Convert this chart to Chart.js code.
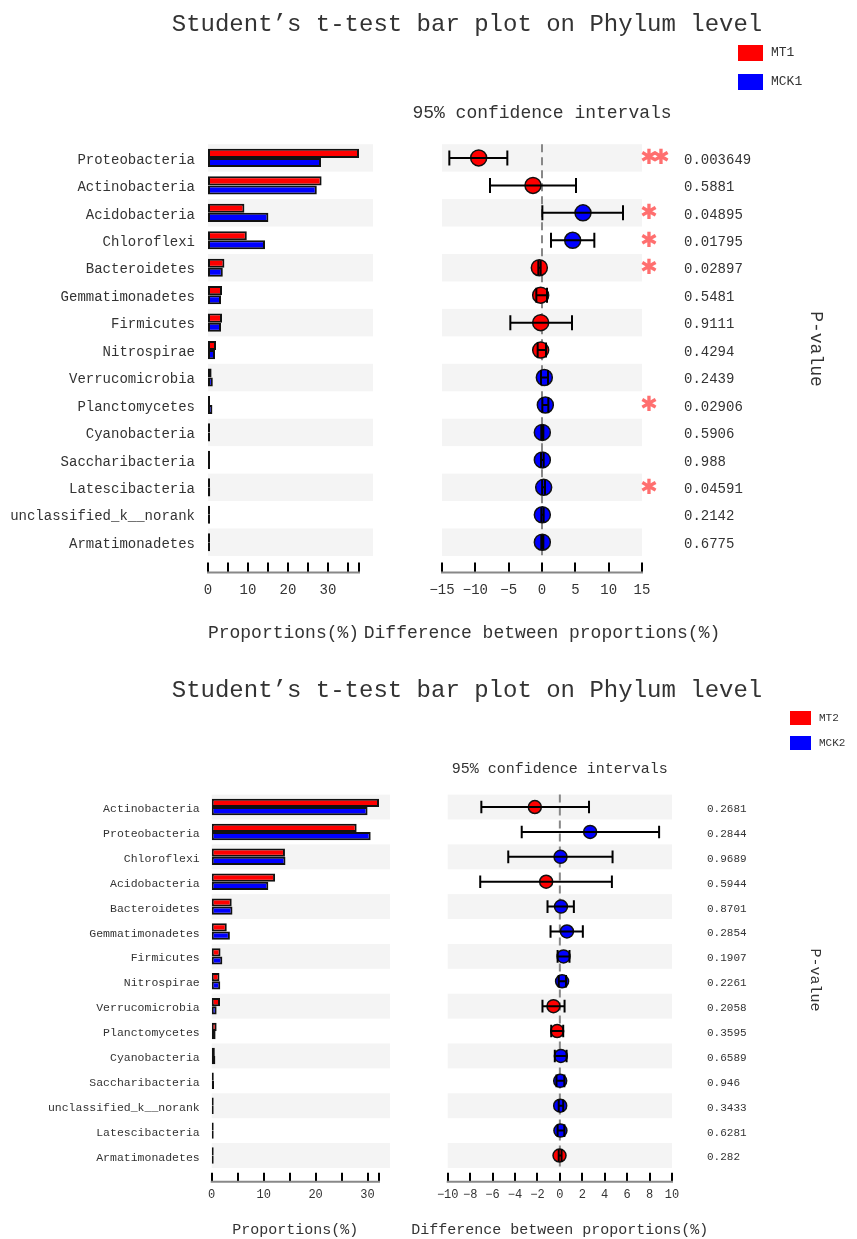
<!DOCTYPE html>
<html>
<head>
<meta charset="utf-8">
<script src="https://cdn.jsdelivr.net/npm/chart.js@4.4.1/dist/chart.umd.min.js"></script>
<style>
  html, body { margin: 0; padding: 0; background: #fff; }
  #page { position: relative; width: 857px; height: 1239px; }
  #page canvas { position: absolute; left: 0; top: 0; }
</style>
</head>
<body>
<div id="page">
  <canvas id="bar1" width="857" height="1239"></canvas>
  <canvas id="ci1" width="857" height="1239"></canvas>
  <canvas id="bar2" width="857" height="1239"></canvas>
  <canvas id="ci2" width="857" height="1239"></canvas>
</div>
<script>
var FONT = "'Liberation Mono', 'DejaVu Sans Mono', monospace";
var RED = '#ff0000';
var BLUE = '#0000ff';
var INK = '#333';
var BAND = '#f4f4f4';
var STAR = '#ff6f6f';

// ---- MT1 vs MCK1 ----
var phyla1 = ['Proteobacteria', 'Actinobacteria', 'Acidobacteria', 'Chloroflexi', 'Bacteroidetes',
  'Gemmatimonadetes', 'Firmicutes', 'Nitrospirae', 'Verrucomicrobia', 'Planctomycetes',
  'Cyanobacteria', 'Saccharibacteria', 'Latescibacteria', 'unclassified_k__norank', 'Armatimonadetes'];
var mt1 = [37.75, 28.4, 9.1, 9.7, 4.1, 3.5, 3.5, 2.0, 0.9, 0.5, 0.4, 0.3, 0.3, 0.2, 0.2];
var mck1 = [28.25, 27.2, 15.1, 14.25, 3.7, 3.25, 3.25, 1.75, 1.2, 1.1, 0.45, 0.35, 0.55, 0.25, 0.25];
var diff1 = [-9.5, -1.35, 6.15, 4.6, -0.4, -0.2, -0.2, -0.2, 0.35, 0.5, 0.05, 0.05, 0.25, 0.05, 0.05];
var low1 = [-13.9, -7.8, 0.05, 1.35, -0.55, -0.85, -4.75, -0.65, -0.15, 0.05, -0.1, -0.15, 0.02, -0.1, -0.1];
var high1 = [-5.2, 5.1, 12.15, 7.85, -0.2, 0.75, 4.5, 0.6, 0.9, 0.95, 0.2, 0.25, 0.45, 0.25, 0.2];
var pvals1 = [0.003649, 0.5881, 0.04895, 0.01795, 0.02897, 0.5481, 0.9111, 0.4294, 0.2439,
  0.02906, 0.5906, 0.988, 0.04591, 0.2142, 0.6775];

// ---- MT2 vs MCK2 ----
var phyla2 = ['Actinobacteria', 'Proteobacteria', 'Chloroflexi', 'Acidobacteria', 'Bacteroidetes',
  'Gemmatimonadetes', 'Firmicutes', 'Nitrospirae', 'Verrucomicrobia', 'Planctomycetes',
  'Cyanobacteria', 'Saccharibacteria', 'unclassified_k__norank', 'Latescibacteria', 'Armatimonadetes'];
var mt2 = [32.2, 27.9, 14.1, 12.2, 3.85, 2.9, 1.7, 1.5, 1.6, 0.95, 0.6, 0.4, 0.2, 0.2, 0.2];
var mck2 = [30.0, 30.6, 14.2, 10.9, 4.0, 3.5, 2.05, 1.65, 0.95, 0.75, 0.7, 0.45, 0.2, 0.2, 0.2];
var diff2 = [-2.23, 2.7, 0.06, -1.22, 0.1, 0.63, 0.33, 0.2, -0.57, -0.24, 0.09, 0.03, 0.03, 0.05, -0.03];
var low2 = [-7.0, -3.4, -4.6, -7.1, -1.1, -0.83, -0.2, -0.1, -1.55, -0.77, -0.45, -0.3, -0.1, -0.2, -0.1];
var high2 = [2.6, 8.85, 4.7, 4.64, 1.25, 2.05, 0.86, 0.55, 0.42, 0.3, 0.6, 0.4, 0.3, 0.4, 0.15];
var pvals2 = [0.2681, 0.2844, 0.9689, 0.5944, 0.8701, 0.2854, 0.1907, 0.2261, 0.2058, 0.3595,
  0.6589, 0.946, 0.3433, 0.6281, 0.282];

var TITLE = 'Student’s t-test bar plot on Phylum level';
var W = 857, H = 1239;

Chart.defaults.font.family = FONT;
Chart.defaults.color = INK;

function font(size) { return size + 'px ' + FONT; }

// grey stripes behind every other row
function rowBands(extra) {
  return {
    id: 'rowBands',
    beforeDatasetsDraw: function (chart) {
      var y = chart.scales.y, a = chart.chartArea, ctx = chart.ctx;
      var n = y.getLabels().length;
      var h = (a.bottom - a.top) / n;
      ctx.save();
      ctx.fillStyle = BAND;
      for (var i = 0; i < n; i += 2) {
        var cy = y.getPixelForValue(i);
        ctx.fillRect(a.left, cy - h / 2, a.right - a.left + extra, h);
      }
      ctx.restore();
    }
  };
}

// bottom axis line with ticks pointing up
function axisLine(gap, len, step) {
  return {
    id: 'axisLine',
    afterDraw: function (chart) {
      var x = chart.scales.x, ctx = chart.ctx;
      var y0 = chart.chartArea.bottom + gap;
      var vals = [];
      for (var v = x.min; v <= x.max + 1e-9; v += step) vals.push(v);
      if (vals[vals.length - 1] < x.max - 1e-9) vals.push(x.max);
      ctx.save();
      ctx.strokeStyle = '#000';
      ctx.lineWidth = 2;
      ctx.beginPath();
      vals.forEach(function (v) {
        var px = Math.round(x.getPixelForValue(v));
        ctx.moveTo(px, y0);
        ctx.lineTo(px, y0 - len);
      });
      ctx.stroke();
      ctx.strokeStyle = '#888';
      ctx.beginPath();
      ctx.moveTo(x.left - 1, y0);
      ctx.lineTo(x.right + 1, y0);
      ctx.stroke();
      ctx.restore();
    }
  };
}

var zeroLine = {
  id: 'zeroLine',
  beforeDatasetsDraw: function (chart) {
    var x = chart.scales.x, a = chart.chartArea, ctx = chart.ctx;
    var px = x.getPixelForValue(0);
    ctx.save();
    ctx.strokeStyle = '#888';
    ctx.lineWidth = 2;
    ctx.setLineDash([8, 5]);
    ctx.beginPath();
    ctx.moveTo(px, a.top);
    ctx.lineTo(px, a.bottom);
    ctx.stroke();
    ctx.restore();
  }
};

// 95% CI whiskers, drawn over the dots
function ciBars(cap) {
  return {
    id: 'ciBars',
    afterDatasetsDraw: function (chart) {
      var x = chart.scales.x, y = chart.scales.y, ctx = chart.ctx;
      ctx.save();
      ctx.strokeStyle = '#000';
      ctx.lineWidth = 2;
      chart.data.datasets[0].data.forEach(function (d, i) {
        var cy = y.getPixelForValue(i);
        var x1 = x.getPixelForValue(d.lo), x2 = x.getPixelForValue(d.hi);
        ctx.beginPath();
        ctx.moveTo(x1, cy); ctx.lineTo(x2, cy);
        ctx.moveTo(x1, cy - cap); ctx.lineTo(x1, cy + cap);
        ctx.moveTo(x2, cy - cap); ctx.lineTo(x2, cy + cap);
        ctx.stroke();
      });
      ctx.restore();
    }
  };
}

// p-values and significance stars to the right of the CI plot
function pvalText(pvals, g) {
  return {
    id: 'pvalText',
    afterDraw: function (chart) {
      var y = chart.scales.y, a = chart.chartArea, ctx = chart.ctx;
      ctx.save();
      ctx.textBaseline = 'middle';
      pvals.forEach(function (p, i) {
        var cy = y.getPixelForValue(i);
        ctx.font = font(g.pvalSize);
        ctx.fillStyle = INK;
        ctx.textAlign = 'left';
        ctx.fillText(String(p), a.right + g.pvalGap, cy + g.textShift);
        var stars = p < 0.01 ? 2 : (p < 0.05 ? 1 : 0);
        ctx.font = "bold 21px 'DejaVu Sans'";
        ctx.fillStyle = STAR;
        ctx.textAlign = 'center';
        for (var k = 0; k < stars; k++) {
          ctx.fillText('\u2731', a.right + 7 + k * 12, cy + 1);
        }
      });
      ctx.restore();
    }
  };
}

// titles, legend and axis captions
function decor(g, names, barChart) {
  return {
    id: 'decor',
    afterDraw: function (chart) {
      var ctx = chart.ctx, a = chart.chartArea, b = barChart.chartArea;
      ctx.save();
      ctx.fillStyle = INK;
      ctx.textBaseline = 'middle';
      ctx.textAlign = 'center';
      ctx.font = font(24);
      ctx.fillText(TITLE, 467, g.titleY);
      ctx.font = font(g.capSize);
      ctx.fillText('95% confidence intervals', (a.left + a.right) / 2, g.confY);
      ctx.fillText('Proportions(%)', (b.left + b.right) / 2, g.axisY);
      ctx.fillText('Difference between proportions(%)', (a.left + a.right) / 2, g.axisY);

      ctx.save();
      ctx.translate(g.pX, g.pY);
      ctx.rotate(Math.PI / 2);
      ctx.fillText('P-value', 0, 0);
      ctx.restore();

      ctx.textAlign = 'left';
      ctx.font = font(g.legSize);
      [RED, BLUE].forEach(function (c, i) {
        var cy = g.legY[i];
        ctx.fillStyle = c;
        ctx.fillRect(g.legX, cy - g.legH / 2, g.legW, g.legH);
        ctx.fillStyle = INK;
        ctx.fillText(names[i], g.legX + g.legW + 8, cy);
      });
      ctx.restore();
    }
  };
}

function buildPanel(g, phyla, mt, mck, diff, low, high, pvals, names) {
  var n = phyla.length;
  var bottom = g.top + n * g.rowH;

  var barChart = new Chart(document.getElementById(g.barId), {
    type: 'bar',
    data: {
      labels: phyla,
      datasets: [
        { label: names[0], data: mt, backgroundColor: RED },
        { label: names[1], data: mck, backgroundColor: BLUE }
      ]
    },
    options: {
      indexAxis: 'y',
      responsive: false,
      animation: false,
      events: [],
      layout: { padding: { left: 5, top: g.top, right: W - g.barRight, bottom: H - bottom - 60 } },
      datasets: {
        bar: {
          borderColor: '#111', borderWidth: 2, borderSkipped: false,
          categoryPercentage: g.barCat, barPercentage: 1, minBarLength: 2
        }
      },
      plugins: { legend: { display: false }, tooltip: { enabled: false } },
      scales: {
        y: {
          grid: { display: false, drawTicks: false },
          border: { display: false },
          ticks: { autoSkip: false, padding: g.labelPad, labelOffset: g.textShift, font: { size: g.labelSize } },
          afterFit: function (s) { s.width = g.barLeft - 5; }
        },
        x: {
          min: 0, max: g.barMax,
          grid: { display: false, drawTicks: false },
          border: { display: false },
          ticks: {
            stepSize: 5, includeBounds: false, autoSkip: false, maxRotation: 0,
            padding: g.tickPad, font: { size: g.tickSize },
            callback: function (v) { return v % 10 === 0 ? v : ''; }
          },
          afterFit: function (s) { s.height = 60; }
        }
      }
    },
    plugins: [rowBands(g.bandExtra), axisLine(g.axisGap, g.tickLen, 5)]
  });

  new Chart(document.getElementById(g.ciId), {
    type: 'scatter',
    data: {
      labels: phyla,
      datasets: [{
        data: phyla.map(function (name, i) {
          return { x: diff[i], y: name, lo: low[i], hi: high[i] };
        }),
        pointRadius: g.dot,
        pointBackgroundColor: function (c) { return c.raw && c.raw.x < 0 ? RED : BLUE; },
        pointBorderColor: '#111',
        pointBorderWidth: 1.5
      }]
    },
    options: {
      responsive: false,
      animation: false,
      events: [],
      layout: { padding: { left: g.ciLeft, top: g.top, right: W - g.ciRight, bottom: H - bottom - 60 } },
      plugins: { legend: { display: false }, tooltip: { enabled: false } },
      scales: {
        y: { type: 'category', offset: true, display: false },
        x: {
          type: 'linear', min: -g.ciRange, max: g.ciRange,
          grid: { display: false, drawTicks: false },
          border: { display: false },
          ticks: {
            stepSize: g.ciStep, autoSkip: false, maxRotation: 0,
            padding: g.tickPad, font: { size: g.tickSize },
            callback: function (v) { return v < 0 ? '\u2212' + (-v) : String(v); }
          },
          afterFit: function (s) { s.height = 60; }
        }
      }
    },
    plugins: [rowBands(0), zeroLine, axisLine(g.axisGap, g.tickLen, g.ciStep),
      ciBars(g.cap), pvalText(pvals, g), decor(g, names, barChart)]
  });
}

buildPanel({
  barId: 'bar1', ciId: 'ci1',
  top: 144.2, rowH: 27.45,
  barLeft: 208, barRight: 359, barMax: 37.75, barCat: 0.66, bandExtra: 14,
  ciLeft: 442, ciRight: 642, ciRange: 15, ciStep: 5,
  labelSize: 14, labelPad: 13, textShift: 2, tickSize: 14, tickPad: 26, axisGap: 16.5, tickLen: 10,
  dot: 8, cap: 7.5, pvalSize: 14, pvalGap: 42,
  titleY: 25, confY: 113, capSize: 18, axisY: 633, pX: 816, pY: 349,
  legX: 738, legW: 25, legH: 16, legY: [53, 82], legSize: 13
}, phyla1, mt1, mck1, diff1, low1, high1, pvals1, ['MT1', 'MCK1']);

buildPanel({
  barId: 'bar2', ciId: 'ci2',
  top: 794.6, rowH: 24.89,
  barLeft: 211.7, barRight: 379, barMax: 32.2, barCat: 0.66, bandExtra: 11,
  ciLeft: 447.7, ciRight: 672, ciRange: 10, ciStep: 2,
  labelSize: 11.5, labelPad: 12, textShift: 2, tickSize: 12, tickPad: 20, axisGap: 13.7, tickLen: 9,
  dot: 6.5, cap: 6.3, pvalSize: 11, pvalGap: 35,
  titleY: 691, confY: 769, capSize: 15, axisY: 1230, pX: 815, pY: 980,
  legX: 790, legW: 21, legH: 14, legY: [718, 743], legSize: 11
}, phyla2, mt2, mck2, diff2, low2, high2, pvals2, ['MT2', 'MCK2']);
</script>
</body>
</html>
